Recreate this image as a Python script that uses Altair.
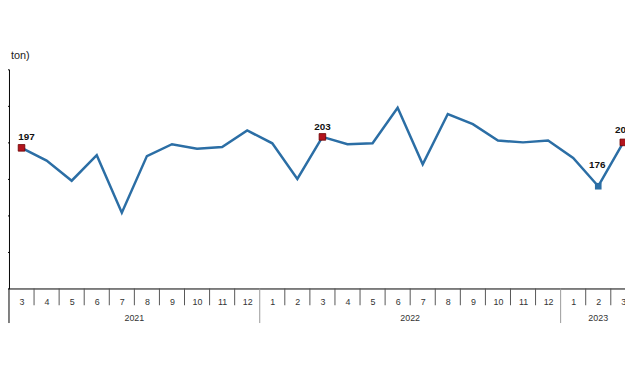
import altair as alt
import pandas as pd

months = [3, 4, 5, 6, 7, 8, 9, 10, 11, 12,
          1, 2, 3, 4, 5, 6, 7, 8, 9, 10, 11, 12,
          1, 2, 3]
years = ["2021"] * 10 + ["2022"] * 12 + ["2023"] * 3
values = [197, 190, 179, 193, 161.5, 192.5, 199, 196.5, 197.5, 206.5,
          199.5, 180, 203, 199, 199.5, 219, 188, 215.5, 210, 201, 200, 201,
          191.5, 176, 200]
red_idx = [0, 12, 24]
blue_idx = [23]
y_ticks = [120, 140, 160, 180, 200, 220, 240]
unit_title = "(Bin ton)"

LINE = "#2b6ea5"
RED = "#b3141d"
FONT = "Liberation Sans"
W, H = 624, 222

df = pd.DataFrame({"i": list(range(len(values))), "month": months,
                   "year": years, "value": values})
df["label"] = df["value"].round().astype(int).astype(str)

# separators between month cells
sep_rows = []
for k in range(len(values) - 1):
    kind = "year" if years[k] != years[k + 1] else "month"
    sep_rows.append({"pos": k + 0.5, "kind": kind})
seps = pd.DataFrame(sep_rows)

year_df = df.groupby("year", as_index=False)["i"].mean().rename(columns={"i": "c"})

xscale = alt.Scale(domain=[-0.5, -0.5 + W / 25.4], nice=False, zero=False)
yscale = alt.Scale(domain=[120, 240], nice=False, zero=False)

month_arr = "[" + ",".join(f"'{m}'" for m in months) + "]"

x_axis = alt.Axis(values=list(range(len(values))),
                  labelExpr=f"{month_arr}[datum.value]",
                  ticks=False, grid=False, title=None,
                  domainColor="black", domainWidth=1,
                  labelFontSize=9, labelColor="#333",
                  labelPadding=9, labelFlush=False,
                  labelOverlap=False, labelFont=FONT)
y_axis = alt.Axis(values=y_ticks, grid=False, title=None,
                  domainColor="black", tickColor="black",
                  tickSize=5, labelFontSize=9, labelColor="#333",
                  labelFont=FONT)


def xq(field):
    return alt.X(field, scale=xscale, axis=x_axis, title=None)


def yq(field):
    return alt.Y(field, scale=yscale, axis=y_axis, title=None)


base = alt.Chart(df)

line = base.mark_line(color=LINE, strokeWidth=2.5).encode(
    x=xq("i:Q"), y=yq("value:Q"))

month_seps = alt.Chart(seps[seps["kind"] == "month"]).mark_rule(
    color="#555", strokeWidth=1).encode(
    x=xq("pos:Q"), y=alt.value(H), y2=alt.value(H + 17))

year_seps = alt.Chart(seps[seps["kind"] == "year"]).mark_rule(
    color="#999", strokeWidth=1).encode(
    x=xq("pos:Q"), y=alt.value(H), y2=alt.value(H + 35))

yaxis_ext = alt.Chart(pd.DataFrame({"a": [0]})).mark_rule(
    color="black", strokeWidth=1).encode(
    x=alt.value(0), y=alt.value(H), y2=alt.value(H + 35))

year_text = alt.Chart(year_df).mark_text(
    fontSize=9, color="#333", font=FONT, baseline="middle").encode(
    x=xq("c:Q"), y=alt.value(H + 30), text="year:N")

title_text = alt.Chart(pd.DataFrame({"t": [unit_title]})).mark_text(
    fontSize=11, color="#222", font=FONT, align="right",
    baseline="middle").encode(
    x=alt.value(21), y=alt.value(-13), text="t:N")

red_pts = base.transform_filter(
    alt.FieldOneOfPredicate(field="i", oneOf=red_idx)).mark_square(
    size=45, filled=True, color=RED, stroke="#6a0000", strokeWidth=0.8,
    opacity=1).encode(x=xq("i:Q"), y=yq("value:Q"))

blue_pts = base.transform_filter(
    alt.FieldOneOfPredicate(field="i", oneOf=blue_idx)).mark_square(
    size=45, filled=True, color=LINE, opacity=1).encode(
    x=xq("i:Q"), y=yq("value:Q"))


def value_label(idx, dx, dy):
    return base.transform_filter(
        alt.FieldOneOfPredicate(field="i", oneOf=idx)).mark_text(
        fontSize=10, fontWeight="bold", color="#111", font=FONT,
        dx=dx, dy=dy, baseline="middle").encode(
        x=xq("i:Q"), y=yq("value:Q"), text="label:N")


lab_first = value_label([0], 5, -11)
lab_mid = value_label([12], 0, -10)
lab_last = value_label([24], 0, -13)
lab_low = value_label(blue_idx, -1, -21)

chart = alt.layer(
    line, month_seps, year_seps, yaxis_ext, year_text, title_text,
    red_pts, blue_pts, lab_first, lab_mid, lab_last, lab_low
).properties(
    width=W, height=H,
    autosize=alt.AutoSizeParams(type="none"),
    padding={"left": 1, "top": 60, "right": 0, "bottom": 45},
).configure(font=FONT).configure_view(stroke=None)

chart.save("out.html", embed_options={"renderer": "svg", "actions": False})
